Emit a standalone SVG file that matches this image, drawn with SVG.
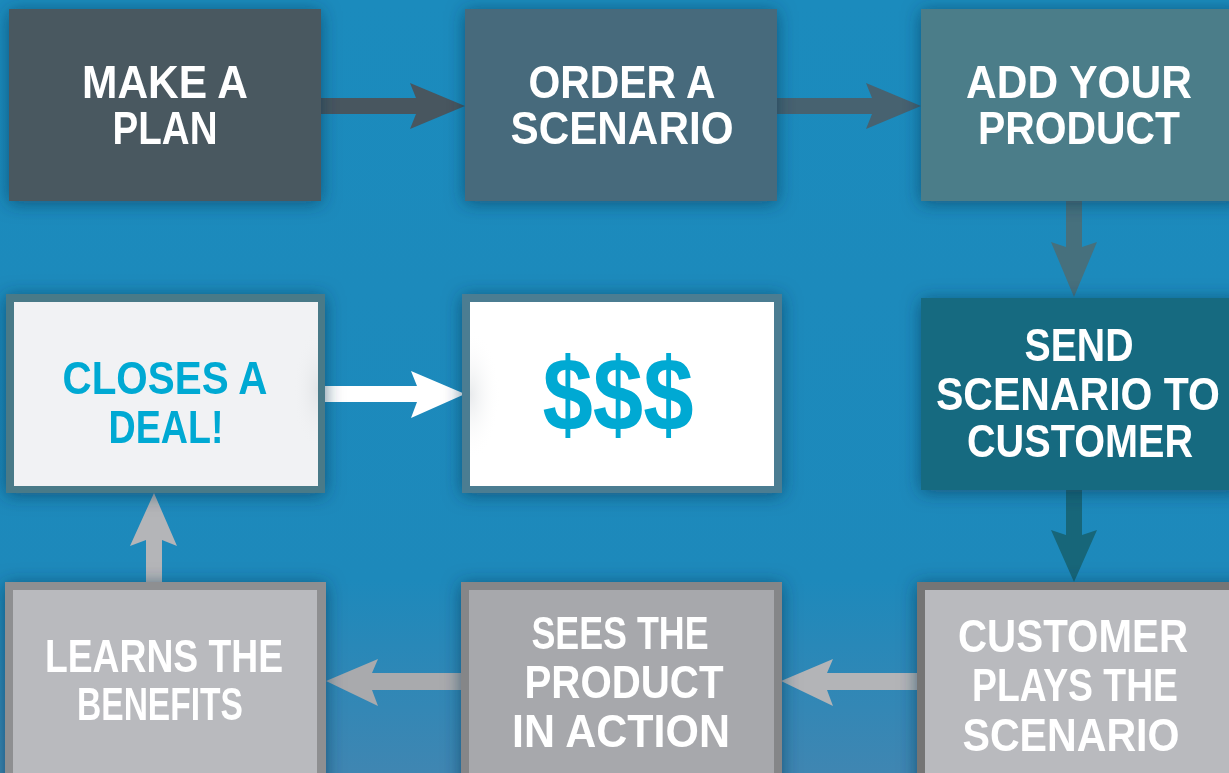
<svg xmlns="http://www.w3.org/2000/svg" width="1229" height="773" viewBox="0 0 1229 773">
  <defs>
    <linearGradient id="bg" x1="0" y1="0" x2="0" y2="1">
      <stop offset="0" stop-color="#1b8bbd"/>
      <stop offset="0.75" stop-color="#1d89bb"/>
      <stop offset="1" stop-color="#3f86b2"/>
    </linearGradient>
    <filter id="sh" x="-20%" y="-20%" width="140%" height="140%">
      <feDropShadow dx="0" dy="2" stdDeviation="9" flood-color="#0a3450" flood-opacity="0.6"/>
    </filter>
    <radialGradient id="glow" cx="0" cy="0.5" r="0.5">
      <stop offset="0" stop-color="#e8eaec"/>
      <stop offset="1" stop-color="#ffffff" stop-opacity="0"/>
    </radialGradient>
    <radialGradient id="glow2" cx="1" cy="0.5" r="0.5">
      <stop offset="0" stop-color="#e2e4e6"/>
      <stop offset="1" stop-color="#f1f2f4" stop-opacity="0"/>
    </radialGradient>
  </defs>
  <style>
    .t { font-family: "Liberation Sans", Arial, sans-serif; font-weight: bold; font-size: 47px; text-anchor: middle; fill: #ffffff; }
    .c { fill: #00a9d3; }
    .box { filter: url(#sh); }
  </style>
  <rect x="0" y="0" width="1229" height="773" fill="url(#bg)"/>

  <g id="connectors">
    <polygon points="321,98 416,98 410,83 465,106 410,129 416,114 321,114" fill="#48565f"/>
    <polygon points="777,98 872,98 866,83 921,106 866,129 872,114 777,114" fill="#476270"/>
    <polygon points="1066,201 1082,201 1082,247 1097,242 1074,297 1051,242 1066,247" fill="#46707d"/>
    <polygon points="1066,490 1082,490 1082,535 1097,530 1074,582 1051,530 1066,535" fill="#176679"/>
    <polygon points="322,386 417,386 411,371 465,394 411,418 417,402 322,402" fill="#ffffff"/>
    <polygon points="917,673 827,673 833,659 781,681 833,706 827,690 917,690" fill="#b3b4b7"/>
    <polygon points="462,673 372,673 378,659 326,681 378,706 372,690 462,690" fill="#a9aaad"/>
    <polygon points="146,582 146,540 130,546 154,493 177,546 162,540 162,582" fill="#b4b5b8"/>
  </g>

  <g id="make-a-plan" class="box">
    <rect x="9" y="9" width="312" height="192" fill="#4a5861"/>
    <text class="t" x="165" y="98" textLength="166" lengthAdjust="spacingAndGlyphs">MAKE A</text>
    <text class="t" x="165" y="144" textLength="105" lengthAdjust="spacingAndGlyphs">PLAN</text>
  </g>

  <g id="order-a-scenario" class="box">
    <rect x="465" y="9" width="312" height="192" fill="#466a7c"/>
    <text class="t" x="622" y="98" textLength="187" lengthAdjust="spacingAndGlyphs">ORDER A</text>
    <text class="t" x="622" y="144" textLength="223" lengthAdjust="spacingAndGlyphs">SCENARIO</text>
  </g>

  <g id="add-your-product" class="box">
    <rect x="921" y="9" width="320" height="192" fill="#4b7d89"/>
    <text class="t" x="1079" y="98" textLength="226" lengthAdjust="spacingAndGlyphs">ADD YOUR</text>
    <text class="t" x="1079" y="144" textLength="202" lengthAdjust="spacingAndGlyphs">PRODUCT</text>
  </g>

  <g id="send-scenario" class="box">
    <rect x="921" y="298" width="320" height="192" fill="#156a80"/>
    <text class="t" x="1079" y="361" textLength="109" lengthAdjust="spacingAndGlyphs">SEND</text>
    <text class="t" x="1078" y="410" textLength="284" lengthAdjust="spacingAndGlyphs">SCENARIO TO</text>
    <text class="t" x="1080" y="457" textLength="226" lengthAdjust="spacingAndGlyphs">CUSTOMER</text>
  </g>

  <g id="closes-a-deal" class="box">
    <rect x="6" y="294" width="319" height="199" fill="#4a7a88"/>
    <rect x="14" y="302" width="304" height="184" fill="#f1f2f4"/>
    <rect x="268" y="330" width="50" height="120" fill="url(#glow2)"/>
    <text class="t c" x="165" y="394" textLength="205" lengthAdjust="spacingAndGlyphs">CLOSES A</text>
    <text class="t c" x="166" y="443" textLength="115" lengthAdjust="spacingAndGlyphs">DEAL!</text>
  </g>

  <g id="money" class="box">
    <rect x="462" y="294" width="320" height="199" fill="#4c7d92"/>
    <rect x="470" y="302" width="304" height="184" fill="#ffffff"/>
    <rect x="470" y="330" width="60" height="130" fill="url(#glow)"/>
    <text class="t c" x="618" y="430" style="font-size:104px" textLength="151" lengthAdjust="spacingAndGlyphs">$$$</text>
  </g>

  <g id="customer-plays" class="box">
    <rect x="917" y="582" width="330" height="210" fill="#747474"/>
    <rect x="925" y="590" width="320" height="200" fill="#b9babe"/>
    <text class="t" x="1073" y="652" textLength="230" lengthAdjust="spacingAndGlyphs">CUSTOMER</text>
    <text class="t" x="1075" y="701" textLength="206" lengthAdjust="spacingAndGlyphs">PLAYS THE</text>
    <text class="t" x="1071" y="751" textLength="217" lengthAdjust="spacingAndGlyphs">SCENARIO</text>
  </g>

  <g id="sees-product" class="box">
    <rect x="461" y="582" width="321" height="210" fill="#858688"/>
    <rect x="469" y="590" width="305" height="200" fill="#a7a8ac"/>
    <text class="t" x="620" y="649" textLength="177" lengthAdjust="spacingAndGlyphs">SEES THE</text>
    <text class="t" x="624" y="698" textLength="199" lengthAdjust="spacingAndGlyphs">PRODUCT</text>
    <text class="t" x="621" y="747" textLength="218" lengthAdjust="spacingAndGlyphs">IN ACTION</text>
  </g>

  <g id="learns-benefits" class="box">
    <rect x="5" y="582" width="321" height="210" fill="#8e8f91"/>
    <rect x="13" y="590" width="304" height="200" fill="#b9babe"/>
    <text class="t" x="164" y="672" textLength="238" lengthAdjust="spacingAndGlyphs">LEARNS THE</text>
    <text class="t" x="160" y="720" textLength="166" lengthAdjust="spacingAndGlyphs">BENEFITS</text>
  </g>
</svg>
